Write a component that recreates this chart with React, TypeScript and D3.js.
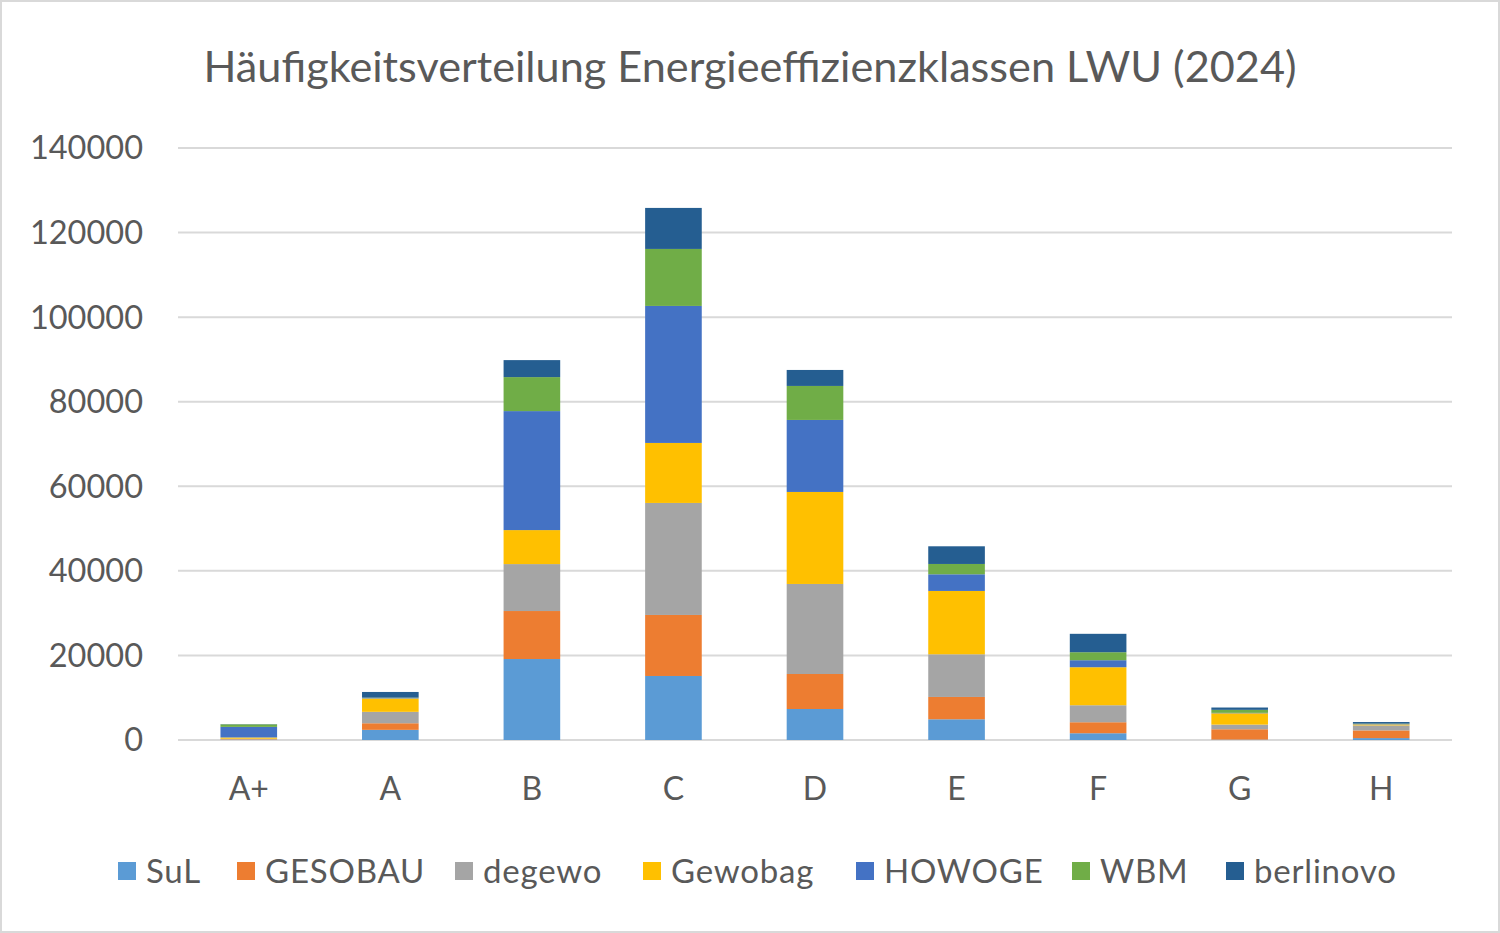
import * as React from "react"
import * as d3 from "d3"

const classes = ["A+", "A", "B", "C", "D", "E", "F", "G", "H"]
const companies = ["SuL", "GESOBAU", "degewo", "Gewobag", "HOWOGE", "WBM", "berlinovo"]
const colors = ["#5B9BD5", "#ED7D31", "#A5A5A5", "#FFC000", "#4472C4", "#70AD47", "#255E91"]

// counts per efficiency class, one array per company
const sul = [50, 2400, 19150, 15140, 7330, 4900, 1600, 100, 450]
const gesobau = [100, 1560, 11350, 14430, 8280, 5280, 2600, 2440, 1820]
const degewo = [150, 2700, 11100, 26490, 21290, 10090, 4020, 1100, 1180]
const gewobag = [300, 3150, 8040, 14190, 21760, 14980, 8990, 2680, 240]
const howoge = [2500, 100, 28140, 32400, 17030, 3940, 1660, 100, 80]
const wbm = [600, 100, 8040, 13480, 8040, 2440, 1890, 710, 100]
const berlinovo = [50, 1350, 4020, 9700, 3780, 4180, 4350, 550, 380]

const yTicks = [0, 20000, 40000, 60000, 80000, 100000, 120000, 140000]

const W = 1500
const H = 933
const FONT = "Lato, 'Open Sans', sans-serif"
const TEXT = "#595959"

export default function App() {
    const series = [sul, gesobau, degewo, gewobag, howoge, wbm, berlinovo]
    const rows = classes.map((c, i) => {
        const row: Record<string, any> = { cls: c }
        companies.forEach((name, j) => { row[name] = series[j][i] })
        return row
    })
    const stacked = d3.stack().keys(companies)(rows as any)

    const x = d3.scaleBand().domain(classes).range([178, 1452]).paddingInner(0.6).paddingOuter(0.3)
    const y = d3.scaleLinear().domain([0, 140000]).range([740, 148])

    const legendX = [118, 237, 455, 643, 856, 1072, 1226]

    return (
        <svg width={W} height={H} style={{ position: "absolute", left: 0, top: 0 }} fontFamily={FONT}>
            <rect x={1} y={1} width={W - 2} height={H - 2} fill="#fff" stroke="#d9d9d9" strokeWidth={2} />
            <text x={750} y={82} textAnchor="middle" fontSize={42} fill={TEXT}
                textLength={1093} lengthAdjust="spacingAndGlyphs">
                Häufigkeitsverteilung Energieeffizienzklassen LWU (2024)
            </text>

            {yTicks.map((t) => (
                <g key={t}>
                    <line x1={178} x2={1452} y1={y(t)} y2={y(t)} stroke="#d9d9d9" strokeWidth={2} />
                    <text x={143} y={y(t)} dy="0.35em" textAnchor="end" fontSize={32.5} fill={TEXT}>{t}</text>
                </g>
            ))}

            {stacked.map((layer, j) => (
                <g key={companies[j]} fill={colors[j]}>
                    {layer.map((d, i) => (
                        <rect key={i} x={x(classes[i])} width={x.bandwidth()}
                            y={y(d[1])} height={Math.max(0, y(d[0]) - y(d[1]))} />
                    ))}
                </g>
            ))}

            {classes.map((c) => (
                <text key={c} x={(x(c) as number) + x.bandwidth() / 2} y={789} dy="0.35em"
                    textAnchor="middle" fontSize={32} fill={TEXT}>{c}</text>
            ))}

            {companies.map((name, j) => (
                <g key={name} transform={`translate(${legendX[j]},862)`}>
                    <rect width={18} height={18} fill={colors[j]} />
                    <text x={28} y={9} dy="0.35em" fontSize={33} letterSpacing={0.8} fill={TEXT}>{name}</text>
                </g>
            ))}
        </svg>
    )
}
